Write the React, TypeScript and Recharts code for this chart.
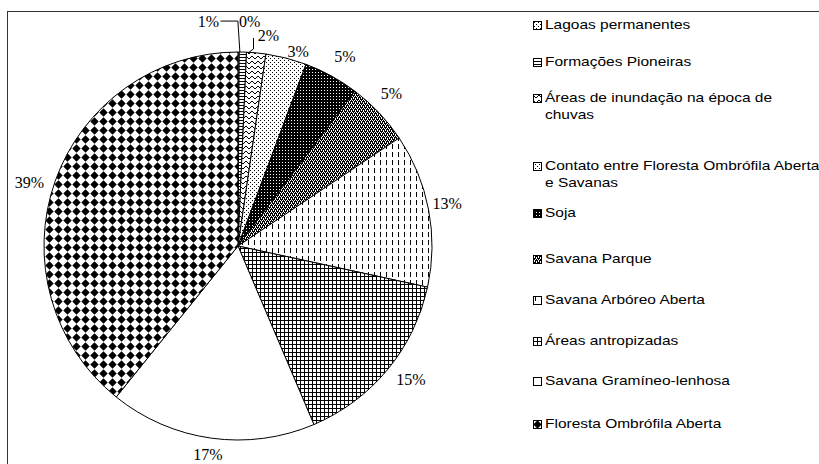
import React from 'react';
import { PieChart, Pie, Cell, Legend } from 'recharts';

// categorias na ordem do gráfico (sentido horário a partir do topo)
const categories = [
  'Lagoas permanentes',
  'Formações Pioneiras',
  'Áreas de inundação na época de\nchuvas',
  'Contato entre Floresta Ombrófila Aberta\ne Savanas',
  'Soja',
  'Savana Parque',
  'Savana Arbóreo Aberta',
  'Áreas antropizadas',
  'Savana Gramíneo-lenhosa',
  'Floresta Ombrófila Aberta',
];
// participação (%)
const shares = [0.1, 0.6, 1.6, 3.4, 4.6, 5.3, 12.8, 15.2, 17.2, 39.2];
const patterns = ['lagoas', 'pioneiras', 'inundacao', 'contato', 'soja', 'parque', 'arboreo', 'antrop', 'gramineo', 'floresta'];

const data = categories.map((name, i) => ({ name, value: shares[i], pat: patterns[i] }));

const RAD = Math.PI / 180;
// ajustes finos das etiquetas (como o Excel faz no "melhor ajuste")
const nudge: Record<number, [number, number]> = {
  0: [11, -7],
  1: [-35, -7],
  2: [10, 7],
  3: [6, 17],
  4: [2, 2],
  5: [-5, -3],
  6: [-5, -2],
  7: [5, -5],
  8: [0, -7],
  9: [-3, 9],
};
const legendY = [25, 62, 98, 166, 213, 259, 300, 341, 381, 424];

function Patterns() {
  return (
    <svg width={0} height={0} style={{ position: 'absolute' }}>
      <defs>
        <pattern id="lagoas" width={4} height={4} patternUnits="userSpaceOnUse">
          <rect width={4} height={4} fill="#fff" />
          <rect x={1} y={1} width={1} height={1} fill="#000" />
          <rect x={3} y={3} width={1} height={1} fill="#000" />
        </pattern>
        <pattern id="pioneiras" width={3} height={3} patternUnits="userSpaceOnUse">
          <rect width={3} height={3} fill="#fff" />
          <rect width={3} height={1} fill="#000" />
        </pattern>
        <pattern id="inundacao" width={6} height={5} patternUnits="userSpaceOnUse">
          <rect width={6} height={5} fill="#fff" />
          <path d="M0 1 L3 4 L6 1" stroke="#000" strokeWidth={1} fill="none" />
        </pattern>
        <pattern id="contato" width={4} height={4} patternUnits="userSpaceOnUse">
          <rect width={4} height={4} fill="#fff" />
          <rect x={0} y={0} width={1} height={1} fill="#000" />
          <rect x={2} y={2} width={1} height={1} fill="#000" />
        </pattern>
        <pattern id="soja" width={3} height={3} patternUnits="userSpaceOnUse">
          <rect width={3} height={3} fill="#000" />
          <rect width={1} height={1} fill="#fff" />
        </pattern>
        <pattern id="parque" width={4} height={4} patternUnits="userSpaceOnUse">
          <rect width={4} height={4} fill="#000" />
          <rect x={0} y={0} width={1} height={1} fill="#fff" />
          <rect x={2} y={0} width={1} height={1} fill="#fff" />
          <rect x={1} y={2} width={1} height={1} fill="#fff" />
          <rect x={3} y={2} width={1} height={1} fill="#fff" />
          <rect x={1} y={1} width={1} height={1} fill="#fff" />
          <rect x={3} y={3} width={1} height={1} fill="#fff" />
        </pattern>
        <pattern id="arboreo" width={6} height={8} patternUnits="userSpaceOnUse">
          <rect width={6} height={8} fill="#fff" />
          <rect x={2} y={0} width={1} height={5} fill="#000" />
        </pattern>
        <pattern id="antrop" width={4} height={4} patternUnits="userSpaceOnUse">
          <rect width={4} height={4} fill="#fff" />
          <rect width={4} height={1} fill="#000" />
          <rect width={1} height={4} fill="#000" />
        </pattern>
        <pattern id="gramineo" width={4} height={4} patternUnits="userSpaceOnUse">
          <rect width={4} height={4} fill="#fff" />
        </pattern>
        <pattern id="floresta" width={9} height={9} patternUnits="userSpaceOnUse">
          <rect width={9} height={9} fill="#fff" />
          <polygon points="4.5,0.3 8.7,4.5 4.5,8.7 0.3,4.5" fill="#000" />
        </pattern>
      </defs>
    </svg>
  );
}

const renderLabel = (p: any) => {
  const { cx, cy, midAngle, outerRadius, percent, index } = p;
  const a = -midAngle * RAD;
  const r = outerRadius + 24;
  const [dx, dy] = nudge[index] || [0, 0];
  const x = cx + r * Math.cos(a) + dx;
  const y = cy + r * Math.sin(a) + dy;
  const ox = cx + outerRadius * Math.cos(a);
  const oy = cy + outerRadius * Math.sin(a);
  let leader: string | null = null;
  if (index === 1) leader = `${x + 12},${y} ${ox - 5},${y} ${ox - 3},${oy}`;
  if (index === 2) leader = `${x - 15},${y + 2} ${x - 15},${oy - 4} ${ox - 8},${oy}`;
  return (
    <g key={`lbl-${index}`}>
      {leader && <polyline points={leader} fill="none" stroke="#000" strokeWidth={1} />}
      <text x={x} y={y} textAnchor="middle" dominantBaseline="central" fontFamily="'Liberation Serif', serif" fontSize={16} fill="#000">
        {`${Math.round(percent * 100)}%`}
      </text>
    </g>
  );
};

function LegendBox() {
  return (
    <div style={{ position: 'relative', width: 290, height: 464 }}>
      {data.map((d, i) => {
        const lines = d.name.split('\n');
        return (
          <div key={d.name} style={{ position: 'absolute', left: 0, top: legendY[i] - 8 }}>
            <svg width={9} height={9} style={{ position: 'absolute', left: 3, top: 4 }}>
              <rect x={0.5} y={0.5} width={8} height={8} fill={`url(#${d.pat})`} stroke="#000" />
            </svg>
            {lines.map((ln, j) => (
              <div
                key={j}
                style={{
                  position: 'absolute',
                  left: 15,
                  top: j * 17,
                  whiteSpace: 'nowrap',
                  fontFamily: "'Liberation Sans', Arial, sans-serif",
                  fontSize: 13,
                  lineHeight: '16px',
                  color: '#000',
                  transform: 'scaleX(1.19)',
                  transformOrigin: 'left',
                }}
              >
                {ln}
              </div>
            ))}
          </div>
        );
      })}
    </div>
  );
}

export default function App() {
  return (
    <div style={{ position: 'absolute', left: 0, top: 0, width: 819, height: 464, overflow: 'hidden', background: '#fff' }}>
      <Patterns />
      <div style={{ position: 'absolute', left: 7, top: 11, width: 900, height: 600, border: '1px solid #333' }} />
      <div style={{ position: 'absolute', left: 0, top: 0 }}>
        <PieChart width={819} height={464} margin={{ top: 0, right: 0, bottom: 0, left: 0 }}>
          <Pie
            data={data}
            dataKey="value"
            nameKey="name"
            cx={238}
            cy={246}
            outerRadius={194}
            startAngle={90}
            endAngle={-270}
            stroke="#000"
            strokeWidth={1}
            label={renderLabel}
            labelLine={false}
            isAnimationActive={false}
          >
            {data.map((d) => (
              <Cell key={d.pat} fill={`url(#${d.pat})`} />
            ))}
          </Pie>
          <Legend
            content={() => <LegendBox />}
            wrapperStyle={{ position: 'absolute', left: 530, top: 0, width: 290, height: 464 }}
          />
        </PieChart>
      </div>
    </div>
  );
}
